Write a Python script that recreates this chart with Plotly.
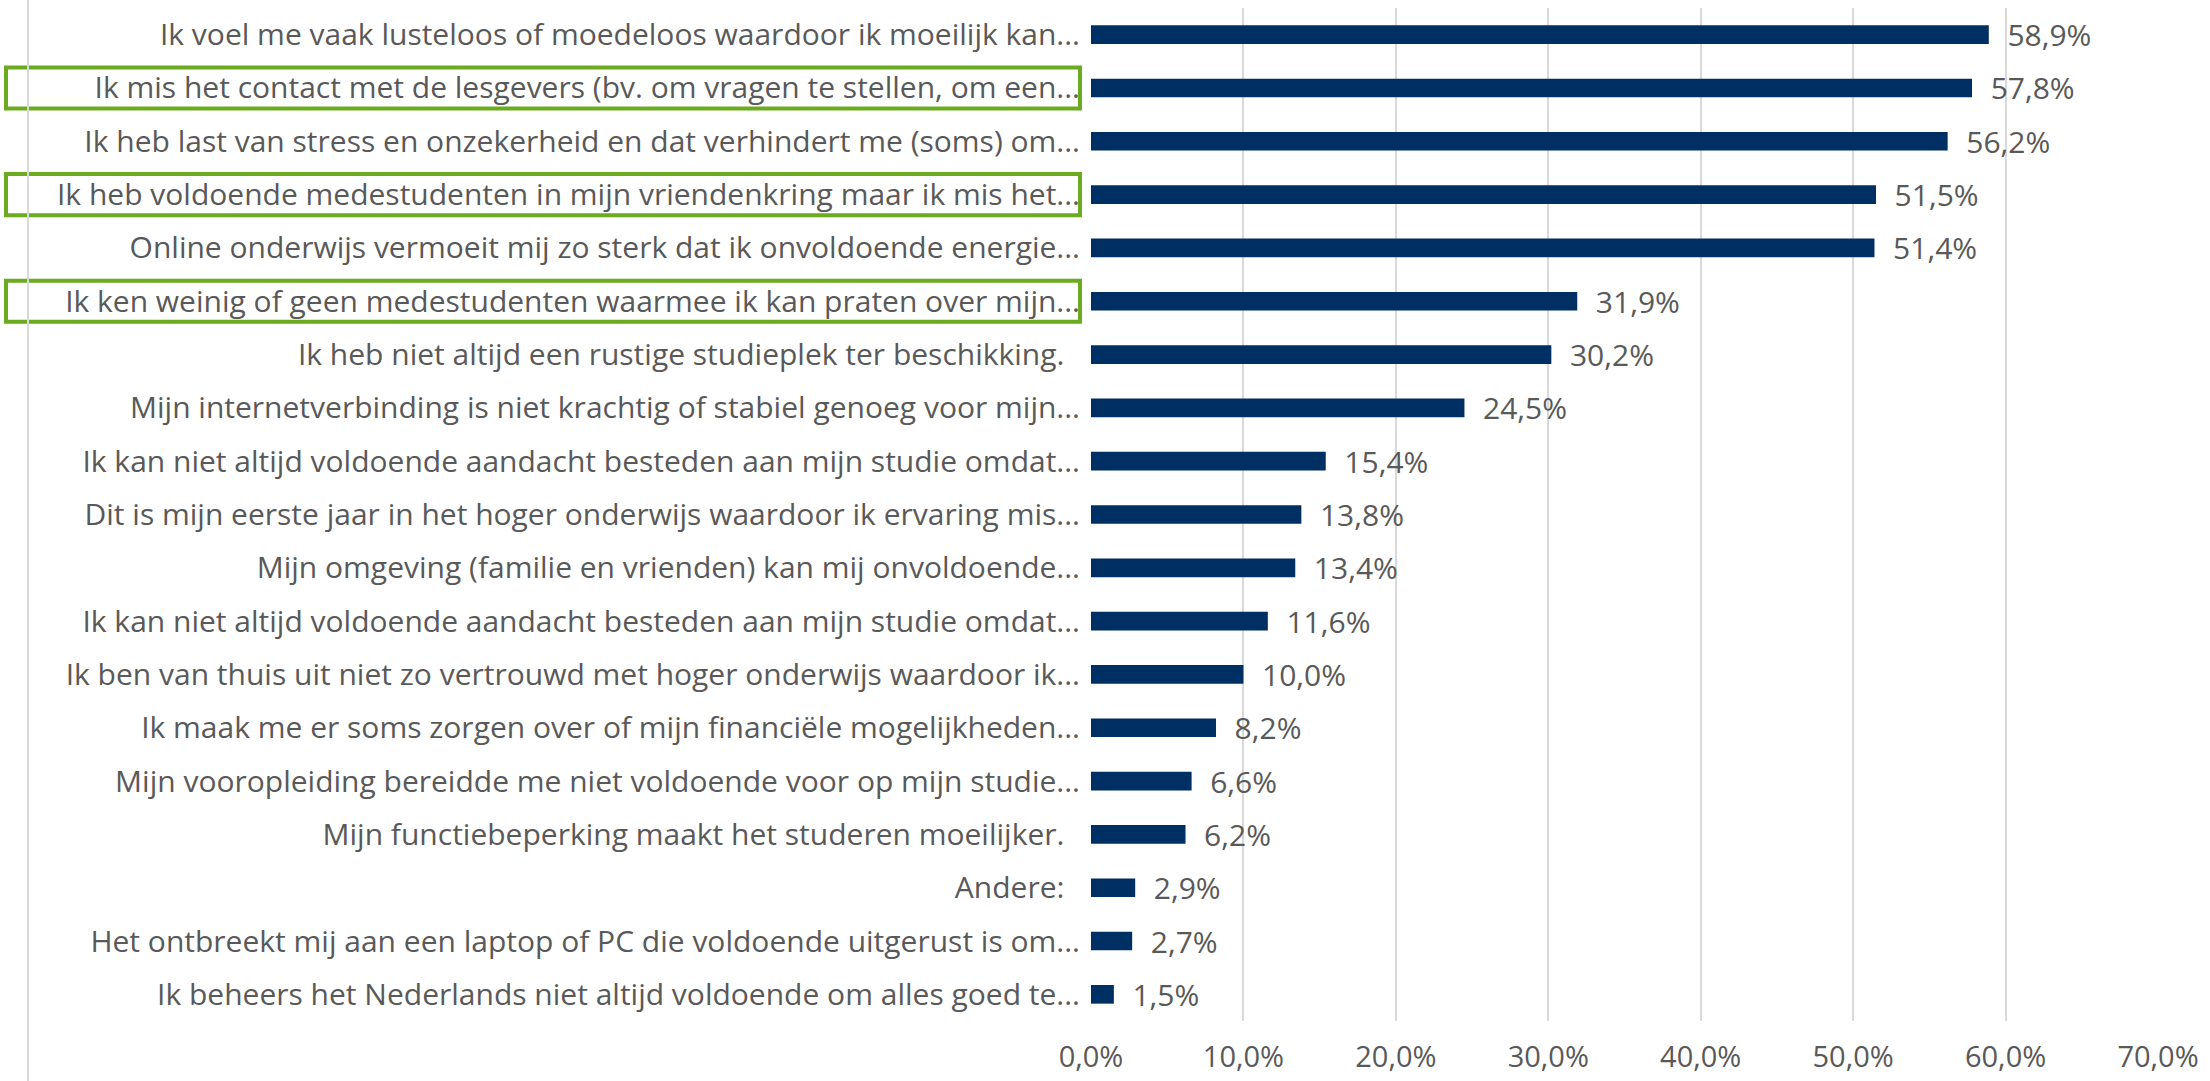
import plotly.graph_objects as go

labels = [
    "Ik voel me vaak lusteloos of moedeloos waardoor ik moeilijk kan...",
    "Ik mis het contact met de lesgevers (bv. om vragen te stellen, om een...",
    "Ik heb last van stress en onzekerheid en dat verhindert me (soms) om...",
    "Ik heb voldoende medestudenten in mijn vriendenkring maar ik mis het...",
    "Online onderwijs vermoeit mij zo sterk dat ik onvoldoende energie...",
    "Ik ken weinig of geen medestudenten waarmee ik kan praten over mijn...",
    "Ik heb niet altijd een rustige studieplek ter beschikking.\u00a0\u00a0",
    "Mijn internetverbinding is niet krachtig of stabiel genoeg voor mijn...",
    "Ik kan niet altijd voldoende aandacht besteden aan mijn studie omdat...",
    "Dit is mijn eerste jaar in het hoger onderwijs waardoor ik ervaring mis...",
    "Mijn omgeving (familie en vrienden) kan mij onvoldoende...",
    "Ik kan niet altijd voldoende aandacht besteden aan mijn studie omdat...",
    "Ik ben van thuis uit niet zo vertrouwd met hoger onderwijs waardoor ik...",
    "Ik maak me er soms zorgen over of mijn financiële mogelijkheden...",
    "Mijn vooropleiding bereidde me niet voldoende voor op mijn studie...",
    "Mijn functiebeperking maakt het studeren moeilijker.\u00a0\u00a0",
    "Andere:\u00a0\u00a0",
    "Het ontbreekt mij aan een laptop of PC die voldoende uitgerust is om...",
    "Ik beheers het Nederlands niet altijd voldoende om alles goed te...",
]
values = [58.9, 57.8, 56.2, 51.5, 51.4, 31.9, 30.2, 24.5, 15.4, 13.8,
          13.4, 11.6, 10.0, 8.2, 6.6, 6.2, 2.9, 2.7, 1.5]
highlighted = [1, 3, 5]
x_ticks = [0, 10, 20, 30, 40, 50, 60, 70]
x_ticktext = ["0,0%", "10,0%", "20,0%", "30,0%", "40,0%", "50,0%", "60,0%", "70,0%"]

positions = list(range(len(labels)))

FONT = "Open Sans, sans-serif"
TXT = "#595959"

fig = go.Figure(go.Bar(
    x=values, y=positions, orientation="h",
    marker=dict(color="#002F63", line=dict(width=0)),
    width=0.35,
    text=values, texttemplate="\u00a0\u00a0%{x:.1f}%", textposition="outside",
    textfont=dict(family=FONT, size=30, color=TXT),
    constraintext="none",
    cliponaxis=False,
))

L, R, T, B = 1091, 52, 8, 60
W, H = 2210, 1081
pw = W - L - R
ph = H - T - B

shapes = []
for i in highlighted:
    shapes.append(dict(type="rect", xref="paper", yref="y",
                       x0=(6 - L) / pw, x1=(1080 - L) / pw,
                       y0=i - 0.385, y1=i + 0.385,
                       line=dict(color="#6AAB1F", width=4), layer="above"))
shapes.append(dict(type="line", xref="paper", yref="paper",
                   x0=(28 - L) / pw, x1=(28 - L) / pw,
                   y0=-B / ph, y1=1 + T / ph,
                   line=dict(color="#D9D9D9", width=2)))

fig.update_layout(
    width=W, height=H,
    margin=dict(l=L, r=R, t=T, b=B, autoexpand=False),
    paper_bgcolor="white", plot_bgcolor="white",
    separators=",.",
    showlegend=False,
    shapes=shapes,
    font=dict(family=FONT, color=TXT),
    xaxis=dict(range=[0, 70], tickvals=x_ticks, ticktext=x_ticktext,
               showgrid=True, gridcolor="#D9D9D9", gridwidth=2,
               zeroline=False, showline=False, ticks="", automargin=False,
               tickfont=dict(family=FONT, size=29, color=TXT),
               ticklabelstandoff=16),
    yaxis=dict(range=[18.5, -0.5], tickvals=positions, ticktext=labels,
               showgrid=False, zeroline=False, showline=False, ticks="",
               automargin=False,
               tickfont=dict(family=FONT, size=30, color=TXT),
               ticklabelstandoff=10),
)

fig.write_html("out.html", config={"displayModeBar": False},
               post_script="document.body.style.margin='0';document.body.style.overflow='hidden';")
